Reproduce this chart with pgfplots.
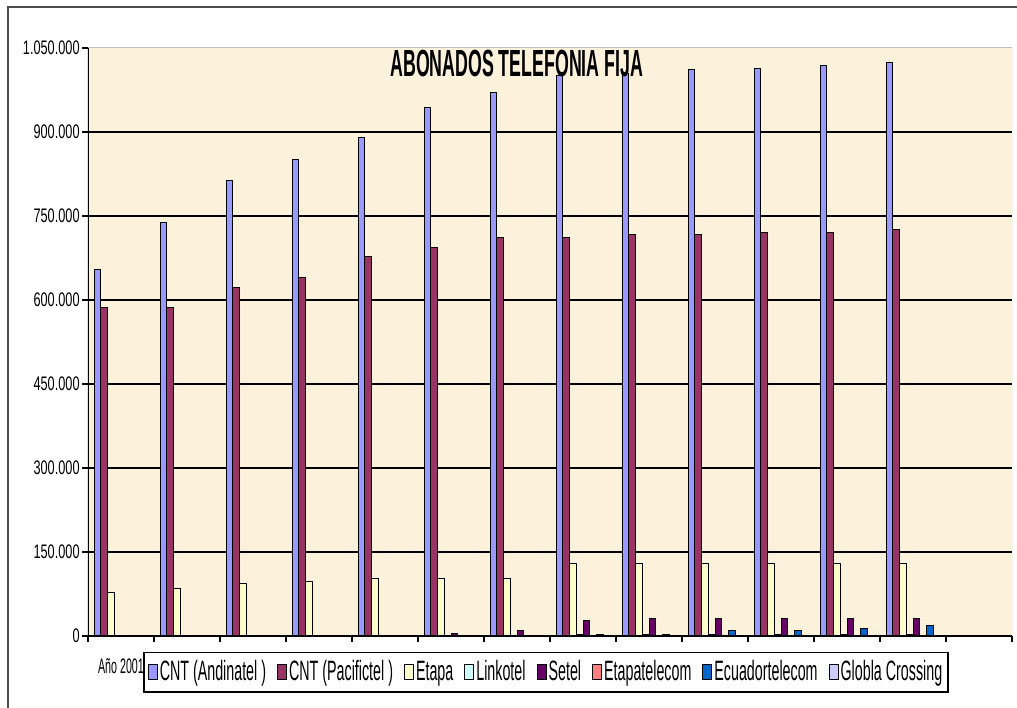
\documentclass[border=0pt]{standalone}
\usepackage{fontspec}
\setmainfont{Liberation Sans}
\newfontfamily\legfont{Liberation Sans}[FakeStretch=0.51]
\newfontfamily\titfont{Liberation Sans}[FakeStretch=0.47]
\newfontfamily\tickfont{Liberation Sans}[FakeStretch=0.65]
\usepackage{pgfplots}
\usepackage{pgfplotstable}
\pgfplotsset{compat=1.18}

\definecolor{andinatel}{HTML}{9999FF}
\definecolor{pacifictel}{HTML}{993366}
\definecolor{etapa}{HTML}{FFFFCC}
\definecolor{linkotel}{HTML}{CCFFFF}
\definecolor{setel}{HTML}{660066}
\definecolor{etapatel}{HTML}{FF8080}
\definecolor{ecuadortel}{HTML}{0066CC}
\definecolor{globla}{HTML}{CCCCFF}
\definecolor{bgbeige}{HTML}{FCF1DB}

% abonados por operador, 2001-2013
\pgfplotstableread{
x andinatel pacifictel etapa linkotel setel etapatel ecuadortel globla
0  655000 587000 77000  0    0     0 0     0
1  739000 587000 84000  0    0     0 0     0
2  814000 623000 93000  0    0     0 0     0
3  850000 641000 98000  0    0     0 0     0
4  891000 677000 102000 0    0     0 0     0
5  943000 694000 102000 0    4000  0 0     0
6  970000 712000 102000 0    10000 0 0     0
7  1000000 712000 129000 2000 27000 0 3000  0
8  1004000 717000 129000 2000 31000 0 3000  0
9  1011000 717000 129000 2000 31000 0 10000 0
10 1014000 721000 129000 2000 31000 0 10000 0
11 1019000 721000 129000 2000 31000 0 14000 0
12 1024000 726000 129000 2000 31000 0 18000 0
}\abonados

\begin{document}
\begin{tikzpicture}
\path[use as bounding box] (-44pt,-35.5pt) rectangle (464.5pt,318pt);
\draw[gray!60!black, line width=1pt] (-40pt,-36pt) -- (-40pt,314.5pt) -- (465pt,314.5pt);
\begin{axis}[
    at={(0,0)}, anchor=south west,
    scale only axis,
    width=462pt, height=294pt,
    xmin=-0.5, xmax=13.5,
    ymin=0, ymax=1050000,
    ybar=0pt, bar width=3.35pt,
    axis background/.style={fill=bgbeige},
    axis line style={draw=none},
    tick align=outside,
    xtick pos=bottom, ytick pos=left,
    major tick length=3pt,
    tick style={black, line width=0.6pt},
    xtick={-0.5,0.5,...,13.5},
    xticklabels={},
    extra x ticks={0},
    extra x tick labels={Año 2001},
    extra x tick style={major tick length=0pt,
        tick label style={font=\legfont\fontsize{10.5}{11}\selectfont, anchor=center, yshift=-15pt}},
    ytick={0,150000,...,900000},
    extra y ticks={1050000},
    extra y tick style={grid=none},
    ymajorgrids,
    grid style={black, line width=0.9pt},
    scaled y ticks=false,
    /pgf/number format/fixed,
    /pgf/number format/precision=0,
    /pgf/number format/1000 sep={.},
    /pgf/number format/assume math mode=true,
    yticklabel style={font=\tickfont\fontsize{9.8}{10}\selectfont, inner sep=1pt},
    title={\titfont\bfseries ABONADOS TELEFONIA FIJA},
    title style={at={(0.464,0.976)}, anchor=north, inner sep=0pt,
        font=\fontsize{18.9}{20}\selectfont},
    every axis plot/.append style={draw=black, line width=0.5pt},
    legend columns=-1,
    legend image code/.code={\draw[#1, line width=0.5pt] (0pt,-3.75pt) rectangle (4.5pt,3.75pt);},
    legend style={at={(0.0595,-0.027)}, anchor=north west,
        draw=black, line width=0.8pt, fill=white,
        font=\legfont\fontsize{14}{16}\selectfont,
        /tikz/every even column/.append style={column sep=4.5pt},
        nodes={inner xsep=1pt, inner ysep=1pt},
        inner xsep=2pt, inner ysep=3pt},
]
\addplot[fill=andinatel]  table[x=x, y=andinatel]  {\abonados};
\addplot[fill=pacifictel] table[x=x, y=pacifictel] {\abonados};
\addplot[fill=etapa]      table[x=x, y=etapa]      {\abonados};
\addplot[fill=linkotel]   table[x=x, y=linkotel]   {\abonados};
\addplot[fill=setel]      table[x=x, y=setel]      {\abonados};
\addplot[fill=etapatel]   table[x=x, y=etapatel]   {\abonados};
\addplot[fill=ecuadortel] table[x=x, y=ecuadortel] {\abonados};
\addplot[fill=globla]     table[x=x, y=globla]     {\abonados};
\legend{CNT (Andinatel ), CNT (Pacifictel ), Etapa, Linkotel, Setel, Etapatelecom, Ecuadortelecom, Globla Crossing}
\draw[gray!50, line width=0.5pt] (rel axis cs:0,1) -- (rel axis cs:1,1) -- (rel axis cs:1,0);
\draw[black, line width=0.8pt] (rel axis cs:0,1) -- (rel axis cs:0,0) -- (rel axis cs:1,0);
\end{axis}
\end{tikzpicture}
\end{document}
